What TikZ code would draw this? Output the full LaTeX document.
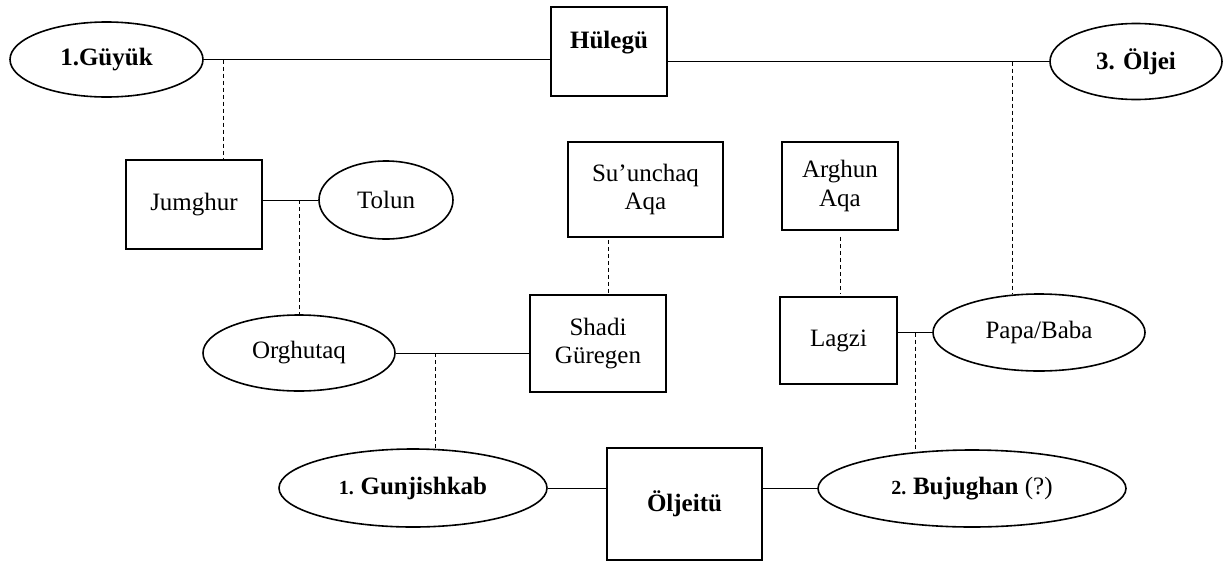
\documentclass[tikz,border=0pt]{standalone}
\usepackage{fontspec}
\setmainfont{Liberation Serif}
\usetikzlibrary{shapes.geometric}
\begin{document}
\begin{tikzpicture}[x=1pt,y=-1pt,
  font=\fontsize{25}{28.5}\selectfont,
  person/.style={draw, line width=1.6pt, inner sep=0pt, align=center},
  boxst/.style={person, rectangle},
  ovalst/.style={person, ellipse},
  bold/.style={font=\fontsize{25}{28.5}\selectfont\bfseries},
  small/.style={},
  link/.style={line width=1pt},
  descent/.style={line width=0.9pt, dash pattern=on 4pt off 3pt}]
\useasboundingbox (0,0) rectangle (1226,568);

% persons
\node[ovalst, bold, minimum width=193, minimum height=75] (guyuk) at (106.5,59.5) {1.Güyük};
\node[boxst, bold, minimum width=116, anchor=north, text height=41.7pt, text depth=47.3pt] (hul) at (609,6) {Hülegü};
\node[ovalst, bold, minimum width=172, minimum height=76] (oljei) at (1136,61.5) {3. Öljei};
\node[boxst, minimum width=136, minimum height=89] (jum) at (194,204.5) {Jumghur};
\node[ovalst, minimum width=134, minimum height=78] (tolun) at (386,200) {Tolun};
\node[boxst, minimum width=155, minimum height=95] (suun) at (645.5,189.5) {Su’unchaq\\Aqa};
\node[boxst, minimum width=116, minimum height=88] (arg) at (840,186) {Arghun\\Aqa};
\node[ovalst, minimum width=192, minimum height=76] (orgh) at (299,353) {Orghutaq};
\node[boxst, minimum width=136, minimum height=97] (shadi) at (598,343.5) {Shadi\\Güregen};
\node[boxst, minimum width=117, minimum height=87] (lagzi) at (838.5,340.5) {Lagzi};
\node[ovalst, minimum width=212, minimum height=77] (papa) at (1039,332.5) {Papa/Baba};
\node[ovalst, bold, minimum width=268, minimum height=78] (gunj) at (413,488) {{\fontsize{20}{24}\selectfont 1. }Gunjishkab};
\node[boxst, bold, minimum width=155, minimum height=112] (oljeitu) at (684.5,504) {Öljeitü};
\node[ovalst, bold, minimum width=308, minimum height=77] (buj) at (972,488.5) {{\fontsize{20}{24}\selectfont 2. }Bujughan {\mdseries(?)}};

% drop points of descent lines
\coordinate (x1) at (223,0);
\coordinate (x2) at (299,0);
\coordinate (x3) at (435,0);
\coordinate (x4) at (608,0);
\coordinate (x5) at (915,0);
\coordinate (x6) at (1012,0);

% marriages
\draw[link] (guyuk.east) -- (guyuk.east -| hul.west);
\draw[link] (oljei.west -| hul.east) -- (oljei.west);
\draw[link] (jum.east |- tolun.west) -- (tolun.west);
\draw[link] (orgh.east) -- (orgh.east -| shadi.west);
\draw[link] (lagzi.east |- papa.west) -- (papa.west);
\draw[link] (gunj.east) -- (gunj.east -| oljeitu.west);
\draw[link] (oljeitu.east |- buj.west) -- (buj.west);

% descent
\draw[descent] (x1 |- guyuk.east) -- (x1 |- jum.north);
\draw[descent] (x2 |- tolun.west) -- (orgh.north);
\draw[descent] (x3 |- orgh.east) -- ([yshift=-0.5pt]x3 |- gunj.north);
\draw[descent] ([yshift=-2pt]x4 |- suun.south) -- (x4 |- shadi.north);
\draw[descent] ([yshift=-6pt]arg.south) -- ([yshift=3pt]arg.south |- lagzi.north);
\draw[descent] (x5 |- papa.west) -- ([yshift=-3pt]x5 |- buj.north);
\draw[descent] (x6 |- oljei.west) -- ([yshift=-1pt]x6 |- papa.north);
\end{tikzpicture}
\end{document}
